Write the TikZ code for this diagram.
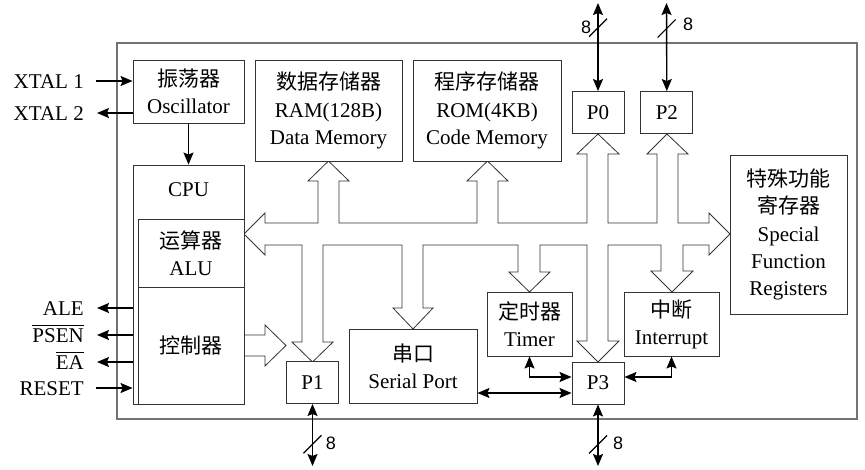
\documentclass[tikz,border=0pt]{standalone}
\usepackage{amsmath}
\usepackage{fontspec}
\setmainfont{Liberation Serif}
\newfontfamily\cjk{Noto Sans CJK SC}
\newfontfamily\numfont{Liberation Sans}
\usetikzlibrary{shapes,arrows.meta,positioning,calc}
\newcommand{\zh}[1]{{\cjk #1}}

\begin{document}
\begin{tikzpicture}[x=1pt, y=-1pt, >={Stealth[length=12pt, width=10pt, inset=2pt]}, font=\fontsize{21}{27.2}\selectfont]
        % Styles
        \tikzstyle{block} = [rectangle, draw=black!80, line width=0.9pt, fill=white, align=center, inner sep=0pt]
        \tikzstyle{port} = [block, minimum width=52, minimum height=42]
        \tikzstyle{chipbox} = [rectangle, draw=black!55, line width=1.5pt, minimum width=740, minimum height=376]
        \tikzstyle{line} = [draw, line width=1.4pt]
        \tikzstyle{bus} = [draw=black!80, line width=0.8pt, fill=white]
        \tikzstyle{slash} = [draw, line width=1.2pt]
        \tikzstyle{bits} = [font=\numfont\fontsize{18}{20}\selectfont, inner sep=0pt]
        \tikzstyle{pin} = [anchor=base east, inner sep=0pt]

        \useasboundingbox (0,0) rectangle (865,469);

        % Chip outline
        \node [chipbox] (chip) at (487,231) {};

        % Internal bus
        \path [bus] (244,234) -- (265,213) -- (265,223) -- (318,223) -- (318,181) -- (308,181) -- (328.5,161)
            -- (349,181) -- (339,181) -- (339,223) -- (477,223) -- (477,181) -- (467,181) -- (487.5,161)
            -- (508,181) -- (498,181) -- (498,223) -- (587,223) -- (587,154) -- (577,154) -- (598,134)
            -- (619,154) -- (608,154) -- (608,223) -- (657,223) -- (657,154) -- (647,154) -- (667,134)
            -- (688,154) -- (678,154) -- (678,223) -- (709,223) -- (709,213) -- (730,234) -- (709,255)
            -- (709,245) -- (683,245) -- (683,271) -- (693,271) -- (672,292) -- (651,271) -- (661,271)
            -- (661,245) -- (608,245) -- (608,341) -- (619,341) -- (598,362) -- (577,341) -- (587,341)
            -- (587,245) -- (540,245) -- (540,272) -- (550,272) -- (529.5,292) -- (509,272) -- (518,272)
            -- (518,245) -- (423,245) -- (423,308) -- (433,308) -- (413,329) -- (393,308) -- (402,308)
            -- (402,245) -- (323,245) -- (323,342) -- (333,342) -- (312.5,362) -- (292,342) -- (302,342)
            -- (302,245) -- (265,245) -- (265,255) -- cycle;
        \path [bus] (244,335) -- (265,335) -- (265,325) -- (286,345.5) -- (265,366) -- (265,356) -- (244,356);

        % Nodes
        \node [block, minimum width=111, minimum height=63] (osc) at (188.5,91.5) {\zh{振荡器}\\Oscillator};
        \node [block, minimum width=111, minimum height=239] (cpu) at (188.5,284.5) {};
        \node (cputext) at (188.5,190) {CPU};
        \node [block, minimum width=106, minimum height=68] (alu) at (191,253) {\zh{运算器}\\ALU};
        \node [block, minimum width=106, minimum height=117] (ctrl) at (191,345.5) {\zh{控制器}};
        \node [block, minimum width=147, minimum height=101] (ram) at (328.5,110.5) {\zh{数据存储器}\\RAM(128B)\\Data Memory};
        \node [block, minimum width=148, minimum height=101] (rom) at (487,110.5) {\zh{程序存储器}\\ROM(4KB)\\Code Memory};
        \node [port] (p0) at (598,112.5) {P0};
        \node [port, right=16 of p0] (p2) {P2};
        \node [block, minimum width=117, minimum height=159] (sfr) at (788.5,234.5) {\zh{特殊功能}\\\zh{寄存器}\\Special\\Function\\Registers};
        \node [port] (p1) at (312.5,382.5) {P1};
        \node [block, minimum width=128, minimum height=74] (serial) at (413,366) {\zh{串口}\\Serial Port};
        \node [block, minimum width=85, minimum height=64] (timer) at (529.5,324) {\zh{定时器}\\Timer};
        \node [port] (p3) at (598,383) {P3};
        \node [block, minimum width=95, minimum height=64] (intr) at (671.5,324) {\zh{中断}\\Interrupt};

        % Pins
        \node [pin] (xtal1lbl) at (84,88) {XTAL 1};
        \node [pin] (xtal2lbl) at (84,120) {XTAL 2};
        \node [pin] (alelbl) at (84,315) {ALE};
        \node [pin] (psenlbl) at (84,342) {$\overline{\hbox{PSEN}}$};
        \node [pin] (ealbl) at (84,369) {$\overline{\hbox{EA}}$};
        \node [pin] (resetlbl) at (84,395) {RESET};
        \coordinate (xtal1) at (96,81);
        \coordinate (xtal2) at (97,113);
        \coordinate (ale) at (97,308);
        \coordinate (psen) at (97,335);
        \coordinate (ea) at (97,362);
        \coordinate (reset) at (96,388);

        % Edges
        \path [line, ->] (xtal1) -- (xtal1 -| osc.west);
        \path [line, ->] (xtal2 -| osc.west) -- (xtal2);
        \path [line, ->] (osc) -- (cpu);
        \path [line, ->] (ale -| cpu.west) -- (ale);
        \path [line, ->] (psen -| cpu.west) -- (psen);
        \path [line, ->] (ea -| cpu.west) -- (ea);
        \path [line, ->] (reset) -- (reset -| cpu.west);

        \coordinate (sp) at ([yshift=-10pt]p3.west);
        \path [line, <->] (sp -| serial.east) -- (sp);
        \path [line, <->] (timer.south) |- ([yshift=6pt]p3.west);
        \path [line, <->] ([yshift=6pt]p3.east) -| (intr.south);

        % External ports
        \coordinate (p0top) at (598,3);
        \coordinate (p2top) at (666.5,3);
        \coordinate (p1bot) at (312.5,466);
        \coordinate (p3bot) at (598,466);
        \path [line, <->] (p0top) -- coordinate[pos=0.28] (s0) (p0);
        \path [line, <->] (p2top) -- coordinate[pos=0.29] (s2) (p2);
        \path [line, <->] (p1) -- coordinate[pos=0.65] (s1) (p1bot);
        \path [line, <->] (p3) -- coordinate[pos=0.65] (s3) (p3bot);
        \foreach \s in {s0,s2,s1,s3}
            \path [slash] (\s) +(-9,9) -- +(9,-9);
        \node [bits] (n0) at (586,27) {8};
        \node [bits] (n2) at (688,24) {8};
        \node [bits] (n1) at (331,443) {8};
        \node [bits] (n3) at (618,443) {8};

    \end{tikzpicture}
\end{document}
